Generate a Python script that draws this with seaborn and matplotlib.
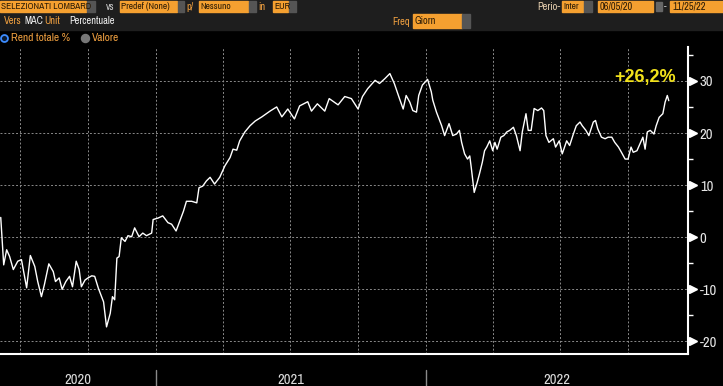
import pandas as pd
import seaborn as sns
import matplotlib.pyplot as plt
import matplotlib.dates as mdates
import matplotlib.ticker as mticker
import matplotlib.transforms as mtransforms
from matplotlib.patches import Rectangle
from matplotlib.lines import Line2D

# rendimento totale %
dates = [
    "2020-06-05", "2020-06-09", "2020-06-13", "2020-06-17", "2020-06-22", "2020-06-28",
    "2020-07-03", "2020-07-10", "2020-07-15", "2020-07-21", "2020-07-25", "2020-07-30",
    "2020-08-03", "2020-08-09", "2020-08-15", "2020-08-18", "2020-08-23", "2020-08-27",
    "2020-09-01", "2020-09-06", "2020-09-10", "2020-09-15", "2020-09-19", "2020-09-22",
    "2020-09-27", "2020-10-01", "2020-10-06", "2020-10-10", "2020-10-15", "2020-10-22",
    "2020-10-26", "2020-10-31", "2020-11-03", "2020-11-06", "2020-11-09", "2020-11-12",
    "2020-11-15", "2020-11-20", "2020-11-24", "2020-11-29", "2020-12-03", "2020-12-09",
    "2020-12-14", "2020-12-19", "2020-12-26", "2020-12-28",
    "2021-01-04", "2021-01-10", "2021-01-17", "2021-01-22", "2021-01-28", "2021-02-02",
    "2021-02-07", "2021-02-11", "2021-02-18", "2021-02-25", "2021-02-28", "2021-03-05",
    "2021-03-10", "2021-03-15", "2021-03-21", "2021-03-28", "2021-04-04", "2021-04-11",
    "2021-04-15", "2021-04-20", "2021-04-24", "2021-05-01", "2021-05-08", "2021-05-15",
    "2021-05-24", "2021-06-04", "2021-06-13", "2021-06-20", "2021-06-28", "2021-07-07",
    "2021-07-14", "2021-07-25", "2021-07-30", "2021-08-07", "2021-08-17", "2021-08-23",
    "2021-09-04", "2021-09-13", "2021-09-22", "2021-10-01", "2021-10-07", "2021-10-14",
    "2021-10-24", "2021-10-30", "2021-11-06", "2021-11-13", "2021-11-19", "2021-11-26",
    "2021-12-01", "2021-12-05", "2021-12-10", "2021-12-14", "2021-12-19", "2021-12-22",
    "2021-12-27",
    "2022-01-03", "2022-01-08", "2022-01-10", "2022-01-15", "2022-01-22", "2022-01-26",
    "2022-02-01", "2022-02-06", "2022-02-11", "2022-02-15", "2022-02-18", "2022-02-22",
    "2022-02-26", "2022-03-01", "2022-03-03", "2022-03-07", "2022-03-11", "2022-03-14",
    "2022-03-18", "2022-03-21", "2022-03-24", "2022-03-28", "2022-04-01", "2022-04-04",
    "2022-04-07", "2022-04-12", "2022-04-16", "2022-04-20", "2022-04-24", "2022-04-29",
    "2022-05-03", "2022-05-08", "2022-05-11", "2022-05-16", "2022-05-19", "2022-05-23",
    "2022-05-27", "2022-06-01", "2022-06-06", "2022-06-09", "2022-06-12", "2022-06-16",
    "2022-06-22", "2022-06-25", "2022-06-30", "2022-07-04", "2022-07-10", "2022-07-14",
    "2022-07-19", "2022-07-23", "2022-07-28", "2022-07-31", "2022-08-05", "2022-08-09",
    "2022-08-15", "2022-08-18", "2022-08-21", "2022-08-26", "2022-08-31", "2022-09-04",
    "2022-09-09", "2022-09-13", "2022-09-18", "2022-09-22", "2022-09-27", "2022-10-01",
    "2022-10-05", "2022-10-08", "2022-10-13", "2022-10-17", "2022-10-21", "2022-10-24",
    "2022-10-27", "2022-10-31", "2022-11-05", "2022-11-08", "2022-11-12", "2022-11-17",
    "2022-11-20", "2022-11-23", "2022-11-25",
]
values = [
    3.8, -5.3, -2.4, -3.7, -6.2, -4.6,
    -4.3, -9.7, -3.5, -5.6, -8.5, -11.4,
    -9.1, -5.1, -6.6, -8.5, -7.8, -10.0,
    -8.5, -7.5, -9.5, -4.6, -6.2, -9.5,
    -8.2, -7.8, -7.4, -7.5, -9.8, -12.4,
    -17.2, -14.6, -11.4, -12.0, -4.0, -3.7,
    -0.1, -0.8, 0.3, 0.1, 1.8, 0.1,
    0.8, 0.3, 0.8, 3.4,
    3.7, 4.1, 2.8, 2.5, 1.2, 3.1,
    5.0, 6.9, 6.9, 6.6, 9.5, 9.8,
    10.8, 11.5, 10.2, 11.5, 13.7, 15.3,
    16.9, 16.7, 18.5, 20.2, 21.4, 22.3,
    23.1, 24.2, 25.0, 23.1, 24.6, 22.7,
    25.2, 26.0, 24.2, 25.6, 24.2, 26.6,
    25.4, 27.0, 26.6, 24.6, 27.0, 28.5,
    30.1, 29.5, 30.4, 31.4, 29.5, 26.6,
    24.6, 27.2, 25.9, 24.3, 24.0, 27.2,
    29.2,
    30.3, 27.9, 26.3, 24.0, 21.4, 19.5,
    21.8, 19.5, 19.8, 20.5, 18.2, 16.0,
    15.0, 15.6, 13.4, 8.6, 10.5, 12.1,
    14.4, 16.6, 17.3, 18.5, 16.6, 18.2,
    16.9, 19.2, 19.5, 20.2, 20.5, 21.1,
    19.5, 16.6, 20.2, 23.7, 20.5, 20.5,
    24.7, 24.3, 24.8, 24.3, 19.5, 18.2,
    18.9, 17.3, 18.5, 16.0, 18.5, 17.6,
    19.8, 21.4, 22.1, 21.4, 20.5, 19.5,
    22.1, 22.4, 20.8, 19.2, 18.9, 19.2,
    19.2, 18.2, 17.3, 16.3, 15.0, 15.0,
    17.3, 16.3, 16.6, 17.9, 19.2, 16.9,
    20.2, 20.5, 19.8, 21.4, 23.0, 23.7,
    25.9, 27.2, 26.2,
]
y_ticks = [-20, -10, 0, 10, 20, 30]
year_labels = ["2020", "2021", "2022"]
last_label = "+26,2%"

sns.set_theme(style="dark")
plt.rcParams['font.family'] = ['Archivo Narrow', 'DejaVu Sans']
plt.rcParams['axes.unicode_minus'] = False

W, H = 723, 386
fig = plt.figure(figsize=(W / 100, H / 100), dpi=100, facecolor='black')
ax = fig.add_axes([0, 32 / H, 688 / W, 307 / H])
ax.set_facecolor('black')

df = pd.DataFrame({'data': pd.to_datetime(dates), 'rend': values})
sns.lineplot(data=df, x='data', y='rend', ax=ax, color='white', lw=1.0)

ax.set_xlim(pd.Timestamp("2020-06-04"), pd.Timestamp("2022-12-21"))
ax.set_ylim(-22.4, 36.5)
ax.set_xlabel('')
ax.set_ylabel('')

# assi e griglia
for s in ['left', 'top']:
    ax.spines[s].set_visible(False)
for s in ['right', 'bottom']:
    ax.spines[s].set_color('white')
    ax.spines[s].set_linewidth(1.5)

ax.xaxis.set_major_locator(mdates.MonthLocator(bymonth=[1, 4, 7, 10]))
ax.xaxis.set_minor_locator(mdates.MonthLocator())
ax.yaxis.set_major_locator(mticker.FixedLocator(y_ticks))
ax.yaxis.set_minor_locator(mticker.MultipleLocator(5))
ax.grid(True, which='major', axis='both', color='#8a8a8a', linestyle=(0, (2, 2)), lw=0.7)

ax.tick_params(axis='x', which='both', direction='out', length=3, width=1,
               color='white', labelbottom=False)
ax.yaxis.tick_right()
ax.tick_params(axis='y', which='major', length=0, pad=8.5, labelsize=10.5,
               labelcolor='#e8e8e8', right=True, labelright=True, left=False, labelleft=False)
ax.tick_params(axis='y', which='minor', length=3.6, width=1, color='white', right=True, left=False)

# triangolini sui tick principali
trans = mtransforms.blended_transform_factory(ax.transAxes, ax.transData)
tri_trans = trans + mtransforms.ScaledTranslation(5 / 100, 0, fig.dpi_scale_trans)
ax.plot([1] * len(y_ticks), y_ticks, transform=tri_trans, ls='none', marker='>',
        ms=5.5, color='white', clip_on=False)

# etichette anni
xt = mtransforms.blended_transform_factory(ax.transData, ax.transAxes)
x0, x1 = [mdates.num2date(v).replace(tzinfo=None) for v in ax.get_xlim()]
for lab in year_labels:
    start = max(pd.Timestamp(f"{lab}-01-01"), pd.Timestamp(x0))
    end = min(pd.Timestamp(f"{int(lab) + 1}-01-01"), pd.Timestamp(x1))
    mid = start + (end - start) / 2
    ax.text(mid, -0.085, lab, transform=xt, ha='center', va='center',
            color='#dcdcdc', fontsize=10.5, clip_on=False)
    if int(lab) > 2020:
        ax.plot([start, start], [-0.052, -0.11], transform=xt, color='#8a8a8a',
                lw=1, clip_on=False)

ax.text(0.9826, 0.902, last_label, transform=ax.transAxes, ha='right', va='center',
        color='#f2e21b', fontsize=13, fontweight='bold',
        family=['Liberation Sans', 'DejaVu Sans'])

# intestazione stile terminale
ORANGE = '#f5a030'
DARK = '#2a1a05'
LBL = '#f0a040'


def box(x0, y0, x1, y1, color):
    fig.add_artist(Rectangle((x0 / W, 1 - y1 / H), (x1 - x0) / W, (y1 - y0) / H,
                             transform=fig.transFigure, color=color, zorder=1))


def txt(x, y, s, color, size=6.8):
    fig.text(x / W, 1 - y / H, s, color=color, fontsize=size, ha='left', va='center', zorder=2)


def dot(x, y, face, edge, ms):
    fig.add_artist(Line2D([x / W], [1 - y / H], transform=fig.transFigure, marker='o',
                          ms=ms, mfc=face, mec=edge, mew=1.3, ls='none', zorder=2))


box(0, 0, W, 30, '#1e1e1e')
row1 = [(0, 86, "SELEZIONATI LOMBARD", 95), (120, 177, "Predef (None)", 184),
        (199, 248, "Nessuno", 256), (273, 288, "EUR", 296), (562, 583, "Inter", 592)]
for bx0, bx1, s, dd in row1:
    box(bx0, 1, bx1, 12, ORANGE)
    box(bx1 + 1, 1, dd, 12, '#555555')
    txt(bx0 + 1, 6.5, s, DARK)
box(598, 1, 653, 12, ORANGE)
txt(600, 6.5, "06/05/20", DARK, 7.5)
box(656, 2, 662, 11, '#666666')
txt(664, 6.5, "-", '#dddddd')
box(670, 1, W, 12, ORANGE)
txt(672, 6.5, "11/25/22", DARK, 7.5)
txt(106, 6.5, "vs", '#cccccc', 7.5)
txt(186, 6.5, "p/", LBL, 7.5)
txt(258, 6.5, "in", LBL, 7.5)
txt(537, 6.5, "Perio-", '#e8d0b0', 7.5)

txt(4, 21, "Vers", LBL, 7.5)
txt(24, 21, "MAC", '#f0f0f0', 7.5)
txt(44, 21, "Unit", LBL, 7.5)
txt(69, 21, "Percentuale", '#f0f0f0', 7.5)
txt(392, 22, "Freq", LBL, 7.5)
box(413, 14, 462, 28, ORANGE)
box(462, 14, 470, 28, '#555555')
txt(415, 21.5, "Giorn", DARK, 7.5)

dot(4, 38, '#0a1a30', '#3d8cff', 5)
txt(11, 38, "Rend totale %", LBL, 8.2)
dot(85, 38, '#777777', '#777777', 5.5)
txt(92, 38, "Valore", LBL, 8.2)

plt.savefig('out.png', dpi=100, facecolor='black')
